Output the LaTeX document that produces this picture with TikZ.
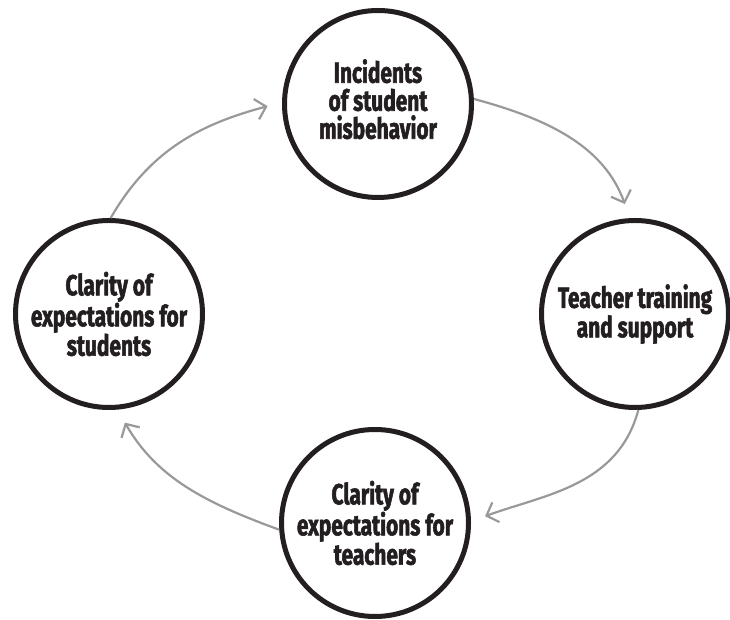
\documentclass[tikz,border=0pt]{standalone}
\usepackage{fontspec}
\newfontfamily\condfont{Fira Sans}[BoldFont={Fira Sans Bold}, BoldFeatures={FakeStretch=0.72, FakeBold=1.8}]
\usetikzlibrary{arrows.meta}
\definecolor{ink}{HTML}{231F20}
\definecolor{flowgray}{HTML}{999999}
\tikzset{
  stage/.style={circle, draw=ink, line width=5pt, minimum size=187pt, inner sep=0pt,
    align=center, text=ink, font=\condfont\bfseries\fontsize{29pt}{28pt}\selectfont},
  flow/.style={draw=flowgray, line width=2.2pt, -{Straight Barb[length=10pt,width=21pt]}, shorten >=15pt}
}
\begin{document}
\begin{tikzpicture}[x=1pt,y=1pt]
\useasboundingbox (0,0) rectangle (730,620);
\node[stage, text depth=10pt] (top) at (378,516) {Incidents\\of student\\misbehavior};
\node[stage] (right) at (635,306) {Teacher training\\and support};
\node[stage] (bottom) at (375,97) {Clarity of\\expectations for\\teachers};
\node[stage] (left) at (109,306) {Clarity of\\expectations for\\students};
\draw[flow] (top.3) to[out=-15,in=110] (right.93);
\draw[flow] (right.-88) to[out=-105,in=20] (bottom.1);
\draw[flow] (bottom.184) to[out=160,in=-60] (left.-85);
\draw[flow] (left.89) to[out=60,in=195] (top.179);
\end{tikzpicture}
\end{document}
